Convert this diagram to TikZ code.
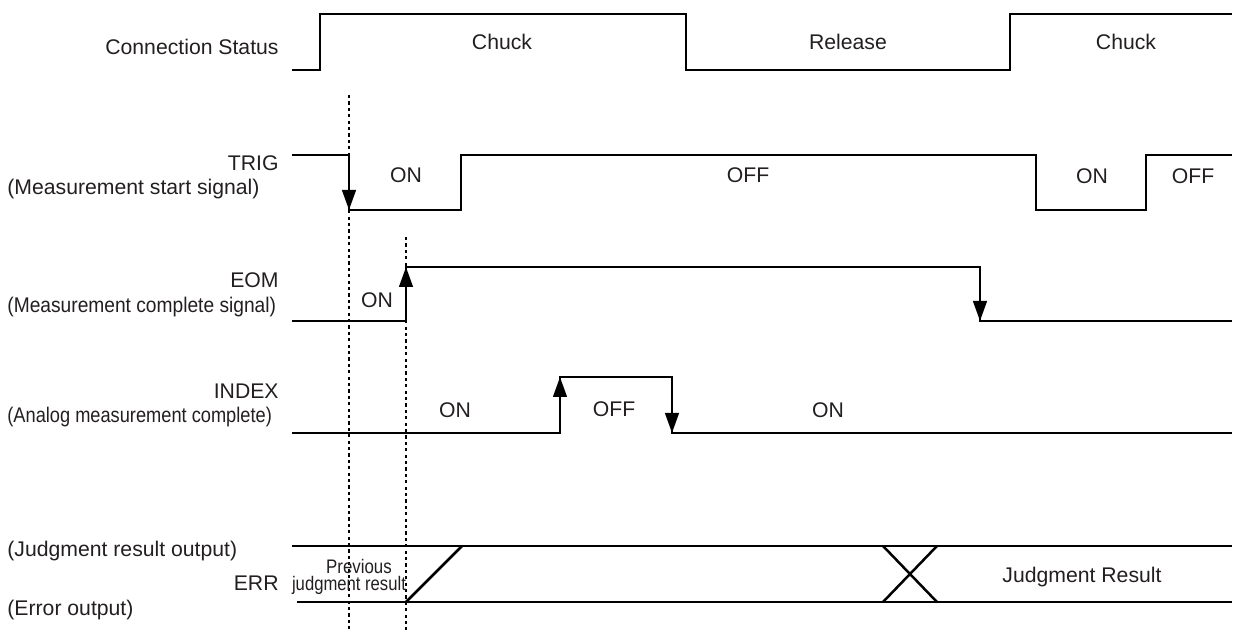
\documentclass[tikz,border=0pt]{standalone}
\usepackage{fontspec}
\setmainfont{Liberation Sans}
\usetikzlibrary{arrows.meta}
\definecolor{ink}{RGB}{35,31,32}

\begin{document}
\begin{tikzpicture}[x=0.5pt,y=-0.5pt,
  wave/.style={line width=1.25pt, line join=miter},
  edgeup/.style={wave, -{Triangle[length=10pt,width=6.8pt]}},
  guide/.style={line width=0.6pt, dash pattern=on 1.6pt off 1.6pt},
  lbl/.style={font=\fontsize{10.6}{12}\selectfont, text=ink, inner sep=0pt},
  small/.style={font=\fontsize{9.8}{11}\selectfont, text=ink, inner sep=0pt}]

\useasboundingbox (0,0) rectangle (1239,630);

%---------------------------------------
% Levels (high / low) of each signal
%---------------------------------------
\def\xL{292}
\def\xR{1232}
\def\CSh{14}   \def\CSl{70}    % Connection status
\def\TRh{155}  \def\TRl{210}   % TRIG
\def\EOh{267}  \def\EOl{321}   % EOM
\def\IXh{377}  \def\IXl{433}   % INDEX
\def\JRh{546}  \def\JRl{602}   % judgment / ERR

%---------------------------------------
% Signal names
%---------------------------------------
\node[lbl, anchor=east] (csname) at (279,47) {Connection Status};
\node[lbl, anchor=east] (trname) at (279,163) {TRIG};
\node[lbl, anchor=west] (trdesc) at (7,189) {(Measurement start signal)};
\node[lbl, anchor=east] (eoname) at (279,280) {EOM};
\node[lbl, anchor=west] (eodesc) at (7,307) {\scalebox{0.905}[1]{(Measurement complete signal)}};
\node[lbl, anchor=east] (ixname) at (279,391) {INDEX};
\node[lbl, anchor=west] (ixdesc) at (7,417) {\scalebox{0.86}[1]{(Analog measurement complete)}};
\node[lbl, anchor=west] (jrdesc) at (7,551) {(Judgment result output)};
\node[lbl, anchor=east] (ername) at (279,583) {ERR};
\node[lbl, anchor=west] (erdesc) at (7,610) {(Error output)};

%---------------------------------------
% Reference lines
%---------------------------------------
\draw[guide] (349,95) -- (349,630);
\draw[guide] (406,237) -- (406,630);

%====================================================
% Connection status
%====================================================
\draw[wave] (\xL,\CSl) -- (320,\CSl) -- (320,\CSh) -- (686,\CSh)
  -- (686,\CSl) -- (1010,\CSl) -- (1010,\CSh) -- (\xR,\CSh);
\node[lbl] (chuckA) at (502,42) {Chuck};
\node[lbl] (release) at (848,42) {Release};
\node[lbl] (chuckB) at (1126,42) {Chuck};

%====================================================
% TRIG
%====================================================
\draw[wave] (\xL,\TRh) -- (349,\TRh) -- (349,\TRl) -- (461,\TRl)
  -- (461,\TRh) -- (1036,\TRh) -- (1036,\TRl) -- (1146,\TRl)
  -- (1146,\TRh) -- (\xR,\TRh);
\draw[edgeup] (349,\TRh) -- (349,\TRl);
\node[lbl] (trA) at (406,175) {ON};
\node[lbl] (trB) at (748,175) {OFF};
\node[lbl] (trC) at (1092,176) {ON};
\node[lbl] (trD) at (1193,176) {OFF};

%====================================================
% EOM
%====================================================
\draw[wave] (\xL,\EOl) -- (406,\EOl) -- (406,\EOh) -- (980,\EOh)
  -- (980,\EOl) -- (\xR,\EOl);
\draw[edgeup] (406,\EOl) -- (406,\EOh);
\draw[edgeup] (980,\EOh) -- (980,\EOl);
\node[lbl] (eoA) at (377,300) {ON};

%====================================================
% INDEX
%====================================================
\draw[wave] (\xL,\IXl) -- (560,\IXl) -- (560,\IXh) -- (672,\IXh)
  -- (672,\IXl) -- (\xR,\IXl);
\draw[edgeup] (560,\IXl) -- (560,\IXh);
\draw[edgeup] (672,\IXh) -- (672,\IXl);
\node[lbl] (ixA) at (455,410) {ON};
\node[lbl] (ixB) at (614,409) {OFF};
\node[lbl] (ixC) at (828,410) {ON};

%====================================================
% Judgment result / ERR
%====================================================
\draw[wave] (\xL,\JRh) -- (\xR,\JRh);
\draw[wave] (297,\JRl) -- (\xR,\JRl);
\draw[wave] (406,\JRl) -- (462,\JRh);
\draw[wave] (883,\JRh) -- (937,\JRl);
\draw[wave] (937,\JRh) -- (883,\JRl);
\node[small] (prevA) at (359,566) {\scalebox{0.86}[1]{Previous}};
\node[small] (prevB) at (349,585) {\scalebox{0.85}[1]{judgment result}};
\node[lbl] (jres) at (1082,577) {Judgment Result};

\end{tikzpicture}
\end{document}
